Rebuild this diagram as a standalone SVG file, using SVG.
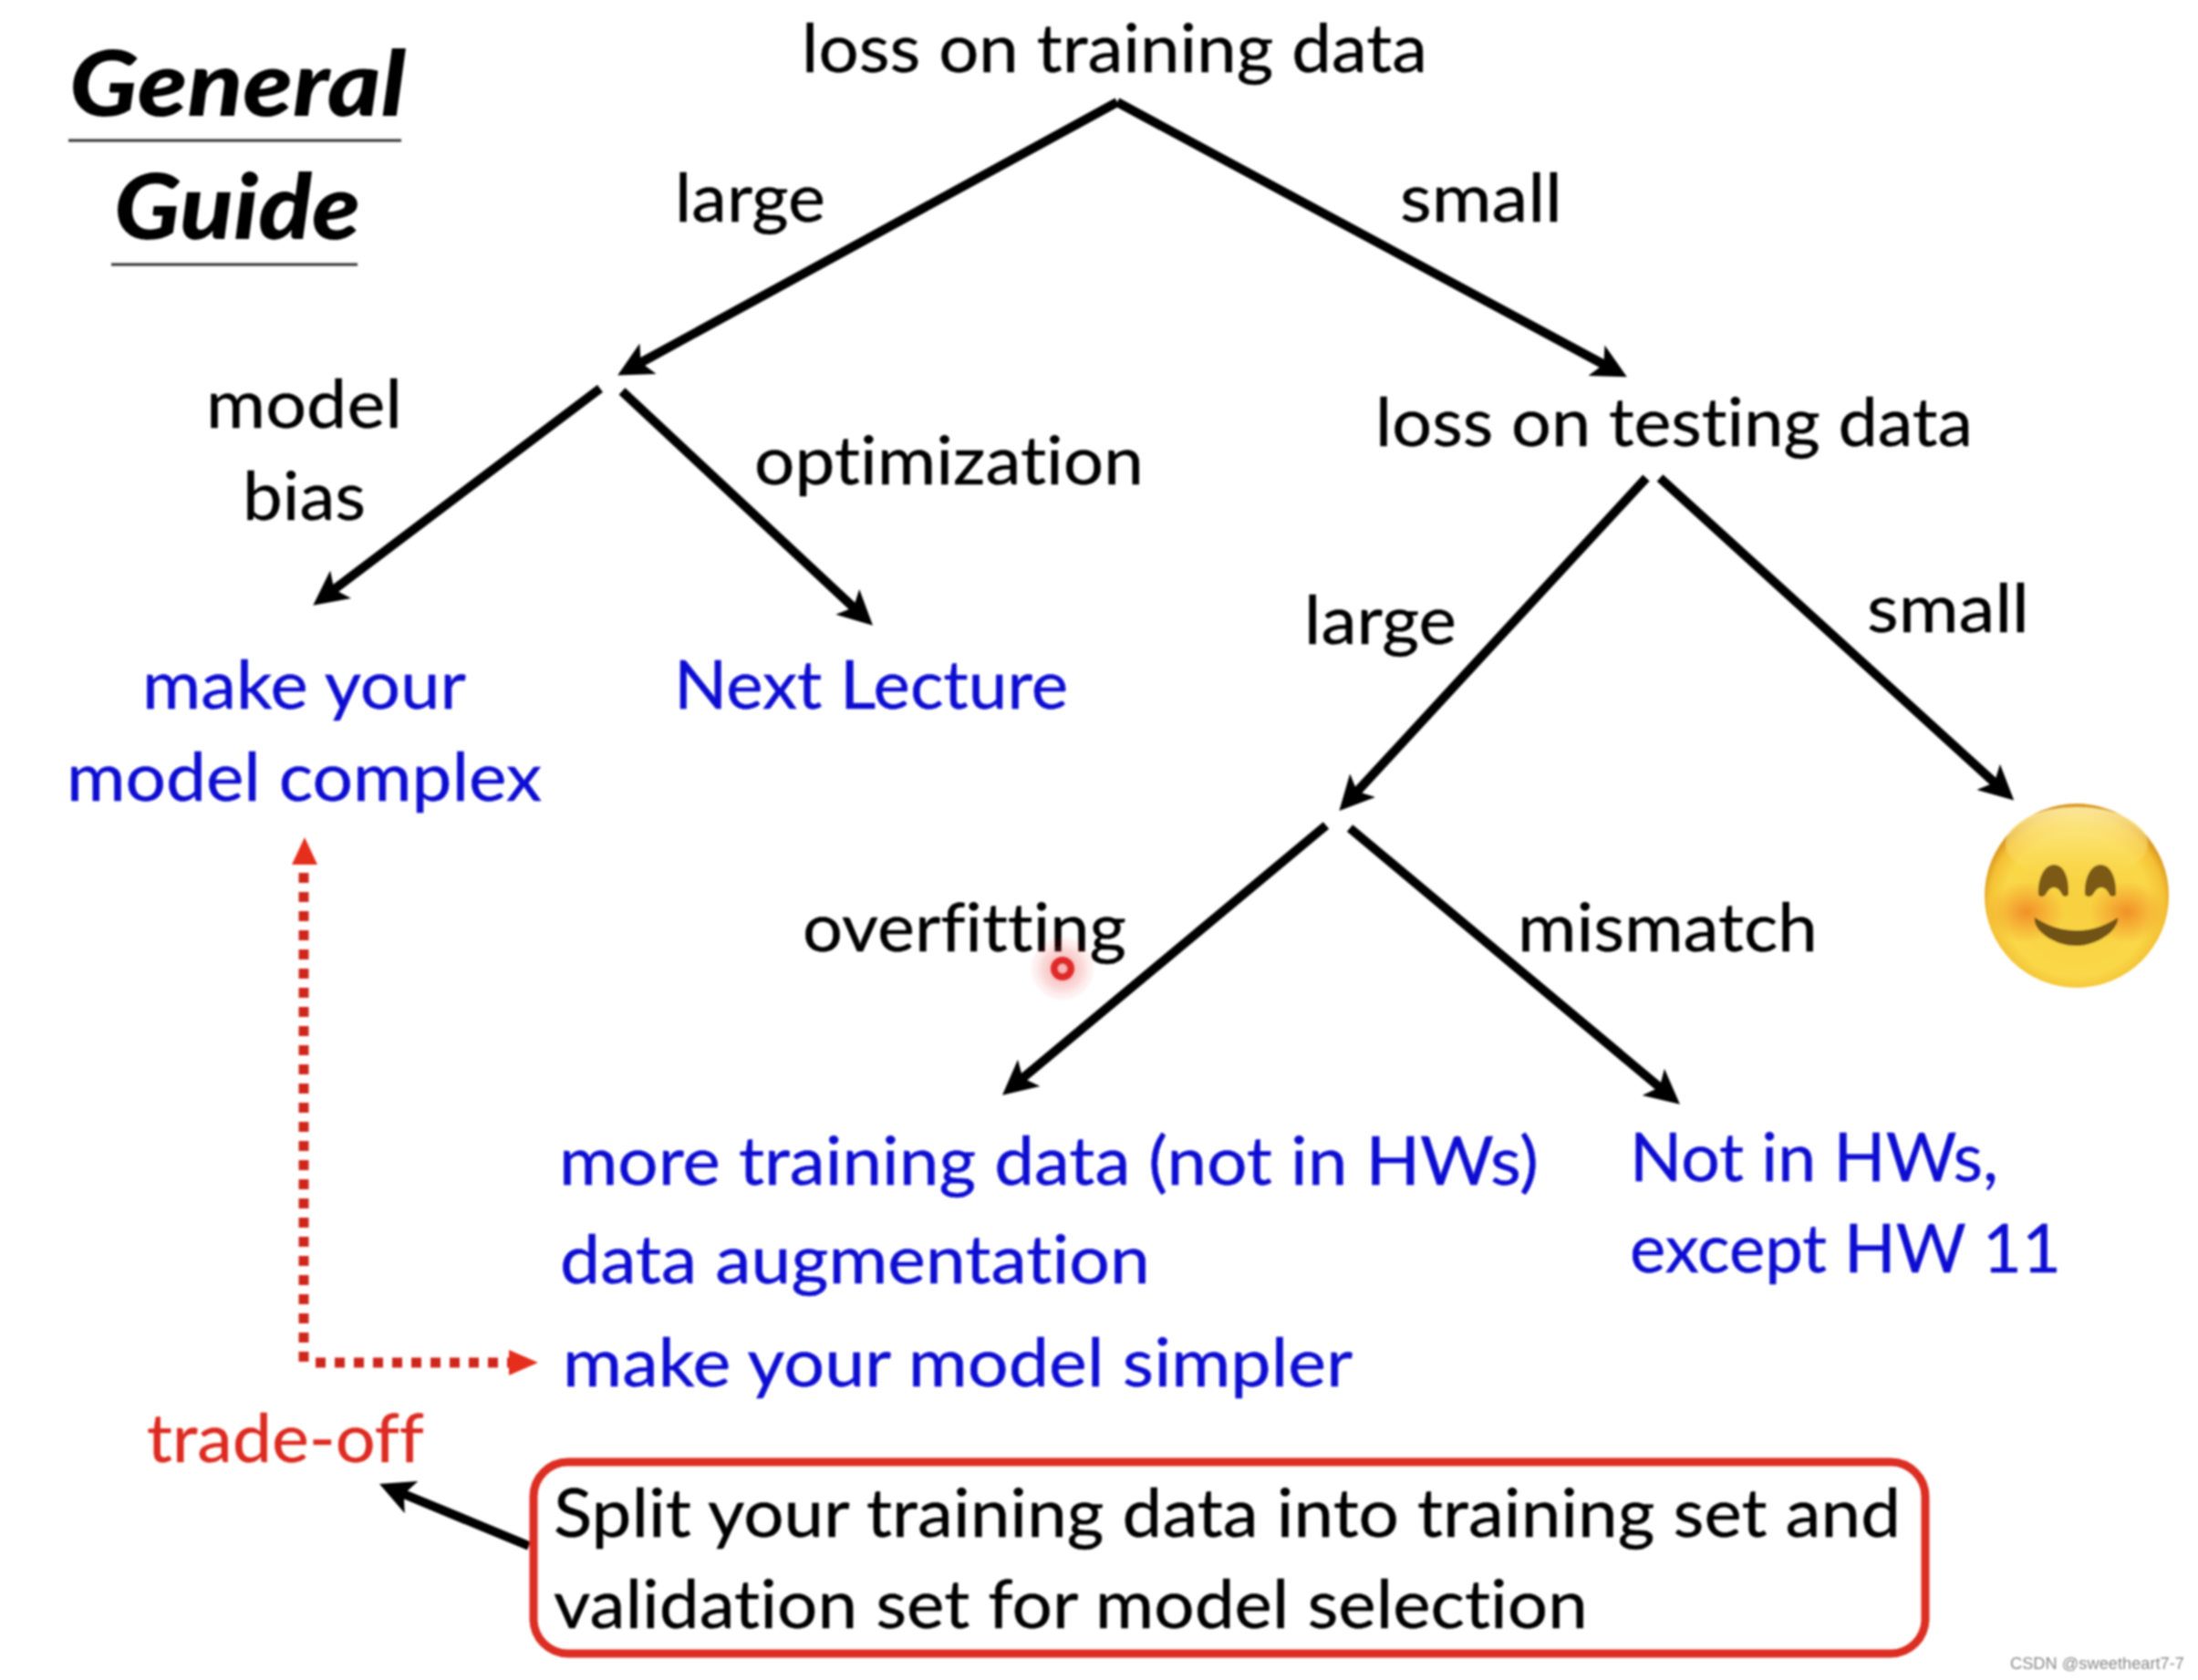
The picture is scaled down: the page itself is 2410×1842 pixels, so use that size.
<svg xmlns="http://www.w3.org/2000/svg" width="2410" height="1842" viewBox="0 0 2410 1842">
<style>
text{font-family:"Lato","Open Sans","Liberation Sans",sans-serif;font-size:74px;fill:#000;stroke:#000;stroke-width:.4;font-variant-ligatures:none}
.b text{fill:#0a0ad2;stroke:#0a0ad2}
text.r{fill:#dd2c20;stroke:#dd2c20}
text.t{font-weight:900;font-style:italic;font-size:100px;stroke-width:0}
.c line{stroke:#000;stroke-width:10;marker-end:url(#ah)}
</style>
<defs>
<marker id="ah" markerUnits="userSpaceOnUse" markerWidth="48" markerHeight="42" viewBox="0 0 48 42" refX="12" refY="21" orient="auto"><path d="M0,2L38,21L0,40L9,21Z" fill="#000"/></marker>
<radialGradient id="face" cx="50%" cy="55%" r="52%"><stop offset="0" stop-color="#f8d040"/><stop offset=".75" stop-color="#fad848"/><stop offset=".92" stop-color="#f4c034"/><stop offset="1" stop-color="#dc9a20"/></radialGradient>
<linearGradient id="sheen" x1="0" y1="0" x2="0" y2="1"><stop offset="0" stop-color="#fff0a8" stop-opacity=".9"/><stop offset="1" stop-color="#fbe068" stop-opacity="0"/></linearGradient>
<radialGradient id="cheek"><stop offset="0" stop-color="#f08a24" stop-opacity=".9"/><stop offset="1" stop-color="#f08a24" stop-opacity="0"/></radialGradient>
<radialGradient id="glow"><stop offset="0" stop-color="#e83030" stop-opacity=".45"/><stop offset="1" stop-color="#e83030" stop-opacity="0"/></radialGradient>
<filter id="soft" x="0" y="0" width="100%" height="100%"><feGaussianBlur stdDeviation=".8"/></filter>
</defs>
<rect width="2410" height="1842" fill="#fff"/>
<g filter="url(#soft)">
<g id="title">
<text class="t" x="76" y="127" textLength="369" lengthAdjust="spacingAndGlyphs">General</text>
<line x1="75" y1="154" x2="440" y2="154" stroke="#333" stroke-width="3"/>
<text class="t" x="125" y="262" textLength="270" lengthAdjust="spacingAndGlyphs">Guide</text>
<line x1="122" y1="290" x2="392" y2="290" stroke="#333" stroke-width="3"/>
</g>
<g id="connectors" class="c">
<line x1="1225" y1="112" x2="700" y2="399"/>
<line x1="1225" y1="112" x2="1761" y2="401"/>
<line x1="658" y1="426" x2="364" y2="648"/>
<line x1="682" y1="429" x2="938" y2="668"/>
<line x1="1805" y1="524" x2="1486" y2="870"/>
<line x1="1820" y1="524" x2="2189" y2="860"/>
<line x1="1454" y1="905" x2="1119" y2="1184"/>
<line x1="1480" y1="908" x2="1822" y2="1194"/>
<line x1="580" y1="1695" x2="440" y2="1637"/>
<g id="tradeoff-link" fill="none" stroke="#cf281e" stroke-width="11" stroke-dasharray="11 10">
<path d="M333,1493V945"/>
<path d="M346,1494H560"/>
</g>
<path d="M334,918L348,948H320Z" fill="#e62d1e"/>
<path d="M590,1494L558,1480V1508Z" fill="#e62d1e"/>
</g>
<g id="n-loss-train"><text x="879" y="79" textLength="686" lengthAdjust="spacingAndGlyphs">loss on training data</text></g>
<g id="n-large1"><text x="740" y="243" textLength="165" lengthAdjust="spacingAndGlyphs">large</text></g>
<g id="n-small1"><text x="1535" y="243" textLength="178" lengthAdjust="spacingAndGlyphs">small</text></g>
<g id="n-model-bias"><text x="226" y="469" textLength="215" lengthAdjust="spacingAndGlyphs">model</text><text x="266" y="570" textLength="135" lengthAdjust="spacingAndGlyphs">bias</text></g>
<g id="n-optimization"><text x="827" y="531" textLength="427" lengthAdjust="spacingAndGlyphs">optimization</text></g>
<g id="n-loss-test"><text x="1508" y="489" textLength="655" lengthAdjust="spacingAndGlyphs">loss on testing data</text></g>
<g id="n-complex" class="b"><text x="156" y="777" textLength="355" lengthAdjust="spacingAndGlyphs">make your</text><text x="73" y="878" textLength="521" lengthAdjust="spacingAndGlyphs">model complex</text></g>
<g id="n-next" class="b"><text x="739" y="777" textLength="432" lengthAdjust="spacingAndGlyphs">Next Lecture</text></g>
<g id="n-large2"><text x="1430" y="706" textLength="167" lengthAdjust="spacingAndGlyphs">large</text></g>
<g id="n-small2"><text x="2047" y="693" textLength="178" lengthAdjust="spacingAndGlyphs">small</text></g>
<g id="n-overfitting"><text x="880" y="1043" textLength="355" lengthAdjust="spacingAndGlyphs">overfitting</text></g>
<g id="n-mismatch"><text x="1664" y="1043" textLength="329" lengthAdjust="spacingAndGlyphs">mismatch</text></g>
<g id="n-overfit-fixes" class="b">
<text x="613" y="1299" textLength="1074" lengthAdjust="spacingAndGlyphs">more training data (not in HWs)</text>
<text x="614" y="1407" textLength="647" lengthAdjust="spacingAndGlyphs">data augmentation</text>
<text x="617" y="1520" textLength="866" lengthAdjust="spacingAndGlyphs">make your model simpler</text>
</g>
<g id="n-mismatch-fix" class="b">
<text x="1787" y="1295" textLength="404" lengthAdjust="spacingAndGlyphs">Not in HWs,</text>
<text x="1787" y="1395" textLength="473" lengthAdjust="spacingAndGlyphs">except HW 11</text>
</g>
<g id="n-tradeoff"><text class="r" x="161" y="1603" textLength="304" lengthAdjust="spacingAndGlyphs">trade-off</text></g>
<g id="n-split">
<rect x="585" y="1603" width="1526" height="210" rx="38" fill="#fff" fill-opacity="0" stroke="#dc2f24" stroke-width="9"/>
<text x="607" y="1685" textLength="1477" lengthAdjust="spacingAndGlyphs">Split your training data into training set and</text>
<text x="607" y="1785" textLength="1134" lengthAdjust="spacingAndGlyphs">validation set for model selection</text>
</g>
<g id="n-smiley">
<circle cx="2277" cy="982" r="101" fill="url(#face)"/>
<ellipse cx="2277" cy="925" rx="78" ry="40" fill="url(#sheen)"/>
<ellipse cx="2222" cy="1000" rx="42" ry="34" fill="url(#cheek)"/>
<ellipse cx="2332" cy="1000" rx="42" ry="34" fill="url(#cheek)"/>
<path d="M2235,981C2234,962 2242,948 2252,948C2263,948 2269,962 2268,981C2264,985 2261,982 2260,979C2256,971 2248,971 2244,979C2242,983 2238,985 2235,981Z" fill="#7c5a18"/>
<path d="M2286,981C2285,962 2293,948 2303,948C2314,948 2321,962 2320,981C2316,985 2313,982 2312,979C2308,971 2300,971 2296,979C2294,983 2290,985 2286,981Z" fill="#7c5a18"/>
<path d="M2231,1006C2260,1025 2294,1025 2322,1006C2324,1018 2302,1037 2276,1037C2250,1037 2228,1018 2231,1006Z" fill="#725216"/>
</g>
<g id="pointer">
<circle cx="1165" cy="1062" r="36" fill="url(#glow)"/>
<circle cx="1165" cy="1062" r="9" fill="#f8b8b8" stroke="#e02a2a" stroke-width="8"/>
</g>
<g id="watermark"><text x="2204" y="1830" textLength="191" lengthAdjust="spacingAndGlyphs" style="font-family:'Liberation Sans',sans-serif;font-size:18px;fill:#8a8a8a;stroke-width:0">CSDN @sweetheart7-7</text></g>
</g>
</svg>
